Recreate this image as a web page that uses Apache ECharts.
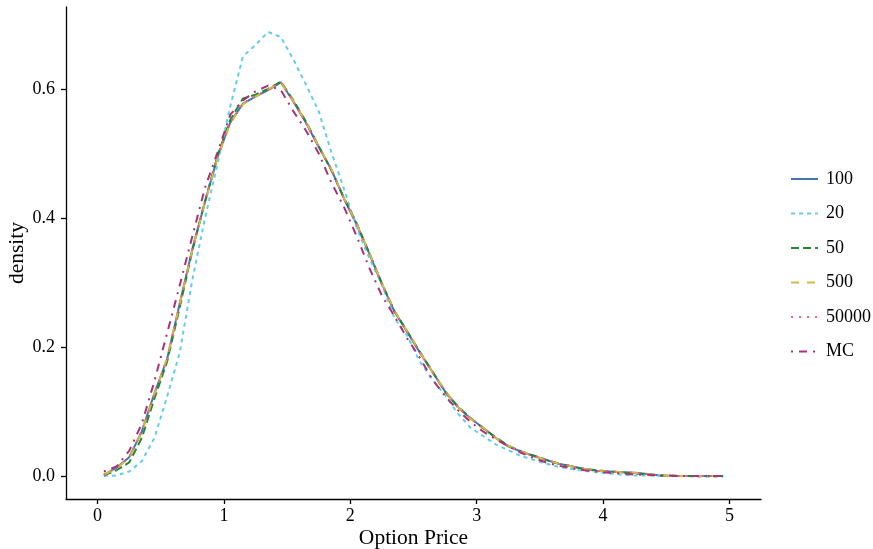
<!DOCTYPE html>
<html>
<head>
<meta charset="utf-8">
<title>Option price density</title>
<script src="https://cdn.jsdelivr.net/npm/echarts@6/dist/echarts.min.js"></script>
<style>
  html, body { margin: 0; padding: 0; background: #ffffff; }
  #chart { width: 873px; height: 549px; }
</style>
</head>
<body>
<div id="chart"></div>
<script>
// Evaluation grid for the option price (x) shared by every density curve
const priceGrid = [
  0.05, 0.15, 0.25, 0.35, 0.45, 0.55, 0.65, 0.75, 0.85, 0.95,
  1.05, 1.15, 1.25, 1.35, 1.45, 1.55, 1.65, 1.75, 1.85, 1.95,
  2.05, 2.15, 2.25, 2.35, 2.45, 2.55, 2.65, 2.75, 2.85, 2.95,
  3.05, 3.15, 3.25, 3.35, 3.45, 3.55, 3.65, 3.75, 3.85, 3.95,
  4.05, 4.15, 4.25, 4.35, 4.45, 4.55, 4.65, 4.75, 4.85, 4.95
];

// Estimated densities, one list per method
const dens100 = [
  0.003, 0.014, 0.030, 0.070, 0.129, 0.182, 0.268, 0.352, 0.425, 0.495,
  0.548, 0.577, 0.588, 0.598, 0.610, 0.580, 0.547, 0.510, 0.475, 0.430,
  0.390, 0.345, 0.298, 0.255, 0.224, 0.192, 0.162, 0.132, 0.108, 0.090,
  0.076, 0.060, 0.047, 0.039, 0.032, 0.026, 0.020, 0.016, 0.012, 0.009,
  0.008, 0.007, 0.006, 0.004, 0.002, 0.001, 0.001, 0.001, 0.001, 0.001
];
const dens20 = [
  0.001, 0.002, 0.008, 0.024, 0.060, 0.124, 0.192, 0.305, 0.400, 0.485,
  0.573, 0.650, 0.668, 0.688, 0.680, 0.645, 0.606, 0.565, 0.502, 0.445,
  0.385, 0.338, 0.297, 0.245, 0.218, 0.178, 0.150, 0.126, 0.098, 0.076,
  0.063, 0.050, 0.041, 0.032, 0.026, 0.020, 0.015, 0.012, 0.009, 0.007,
  0.005, 0.003, 0.002, 0.002, 0.001, 0.001, 0.001, 0.000, 0.000, 0.000
];
const dens50 = [
  0.002, 0.010, 0.022, 0.060, 0.121, 0.178, 0.262, 0.350, 0.426, 0.497,
  0.552, 0.585, 0.591, 0.600, 0.611, 0.582, 0.549, 0.511, 0.474, 0.431,
  0.392, 0.346, 0.299, 0.256, 0.225, 0.193, 0.163, 0.131, 0.109, 0.091,
  0.075, 0.061, 0.048, 0.039, 0.033, 0.026, 0.020, 0.016, 0.012, 0.010,
  0.008, 0.007, 0.005, 0.004, 0.002, 0.001, 0.001, 0.001, 0.001, 0.001
];
const dens500 = [
  0.003, 0.013, 0.029, 0.069, 0.128, 0.183, 0.267, 0.351, 0.424, 0.494,
  0.547, 0.576, 0.588, 0.599, 0.610, 0.581, 0.548, 0.511, 0.476, 0.431,
  0.391, 0.346, 0.299, 0.256, 0.225, 0.193, 0.162, 0.133, 0.108, 0.090,
  0.076, 0.060, 0.048, 0.039, 0.032, 0.026, 0.020, 0.016, 0.012, 0.009,
  0.008, 0.007, 0.006, 0.004, 0.002, 0.001, 0.001, 0.001, 0.001, 0.001
];
const dens50000 = [
  0.003, 0.014, 0.030, 0.070, 0.129, 0.182, 0.267, 0.352, 0.425, 0.495,
  0.548, 0.577, 0.589, 0.599, 0.610, 0.580, 0.547, 0.510, 0.475, 0.431,
  0.390, 0.345, 0.298, 0.255, 0.224, 0.192, 0.162, 0.132, 0.108, 0.090,
  0.076, 0.060, 0.047, 0.039, 0.032, 0.026, 0.020, 0.016, 0.012, 0.009,
  0.008, 0.007, 0.006, 0.004, 0.002, 0.001, 0.001, 0.001, 0.001, 0.001
];
const densMC = [
  0.008, 0.016, 0.040, 0.082, 0.148, 0.222, 0.296, 0.372, 0.447, 0.502,
  0.560, 0.582, 0.596, 0.605, 0.598, 0.565, 0.535, 0.500, 0.455, 0.417,
  0.372, 0.323, 0.280, 0.248, 0.214, 0.184, 0.150, 0.125, 0.103, 0.085,
  0.070, 0.058, 0.047, 0.037, 0.029, 0.022, 0.017, 0.013, 0.010, 0.008,
  0.006, 0.005, 0.003, 0.003, 0.002, 0.002, 0.001, 0.001, 0.001, 0.001
];

const seriesNames = ['100', '20', '50', '500', '50000', 'MC'];
const xTicks = [0, 1, 2, 3, 4, 5];
const yTicks = [0, 0.2, 0.4, 0.6];

const seriesValues = [dens100, dens20, dens50, dens500, dens50000, densMC];
const seriesColors = ['#4477AA', '#66CCEE', '#228833', '#CCBB44', '#EE6677', '#AA3377'];
const seriesDashes = ['solid', [4, 4], [8, 4], [8, 8], [2, 6], [2, 6, 8, 6]];

const serif = 'Liberation Serif';
const chart = echarts.init(document.getElementById('chart'), null, { renderer: 'canvas' });

const axisLineStyle = { color: '#000', width: 1.3 };

chart.setOption({
  backgroundColor: '#ffffff',
  animation: false,
  grid: { left: 66, right: 112, top: 7, bottom: 50, outerBoundsMode: 'none' },
  legend: {
    orient: 'vertical',
    left: 790,
    top: 170,
    padding: 0,
    itemWidth: 27,
    itemHeight: 14,
    itemGap: 16.5,
    data: seriesNames,
    itemStyle: { opacity: 0 },
    textStyle: { fontFamily: serif, fontSize: 18, color: '#000', padding: [0, 0, 0, 3] }
  },
  xAxis: {
    type: 'value',
    min: -0.25,
    max: 5.25,
    name: 'Option Price',
    nameLocation: 'middle',
    nameGap: 28,
    nameMoveOverlap: false,
    nameTextStyle: { fontFamily: serif, fontSize: 21.5, color: '#000' },
    axisLine: { show: true, onZero: false, lineStyle: axisLineStyle },
    axisTick: { show: true, length: 5, customValues: xTicks, lineStyle: axisLineStyle },
    splitLine: { show: false },
    axisLabel: {
      customValues: xTicks,
      margin: 8,
      fontFamily: serif, fontSize: 18, color: '#000'
    }
  },
  yAxis: {
    type: 'value',
    min: -0.0345,
    max: 0.7265,
    name: 'density',
    nameLocation: 'middle',
    nameGap: 38,
    nameMoveOverlap: false,
    nameTextStyle: { fontFamily: serif, fontSize: 21.5, color: '#000' },
    axisLine: { show: true, onZero: false, lineStyle: axisLineStyle },
    axisTick: { show: true, length: 5, customValues: yTicks, lineStyle: axisLineStyle },
    splitLine: { show: false },
    axisLabel: {
      customValues: yTicks,
      margin: 11,
      formatter: v => v.toFixed(1),
      fontFamily: serif, fontSize: 18, color: '#000'
    }
  },
  series: seriesNames.map((name, k) => ({
    name: name,
    type: 'line',
    showSymbol: false,
    symbol: 'none',
    smooth: false,
    color: seriesColors[k],
    itemStyle: { color: seriesColors[k] },
    lineStyle: { color: seriesColors[k], width: 2, type: seriesDashes[k], cap: 'butt' },
    data: priceGrid.map((x, i) => [x, seriesValues[k][i]])
  }))
});
</script>
</body>
</html>
